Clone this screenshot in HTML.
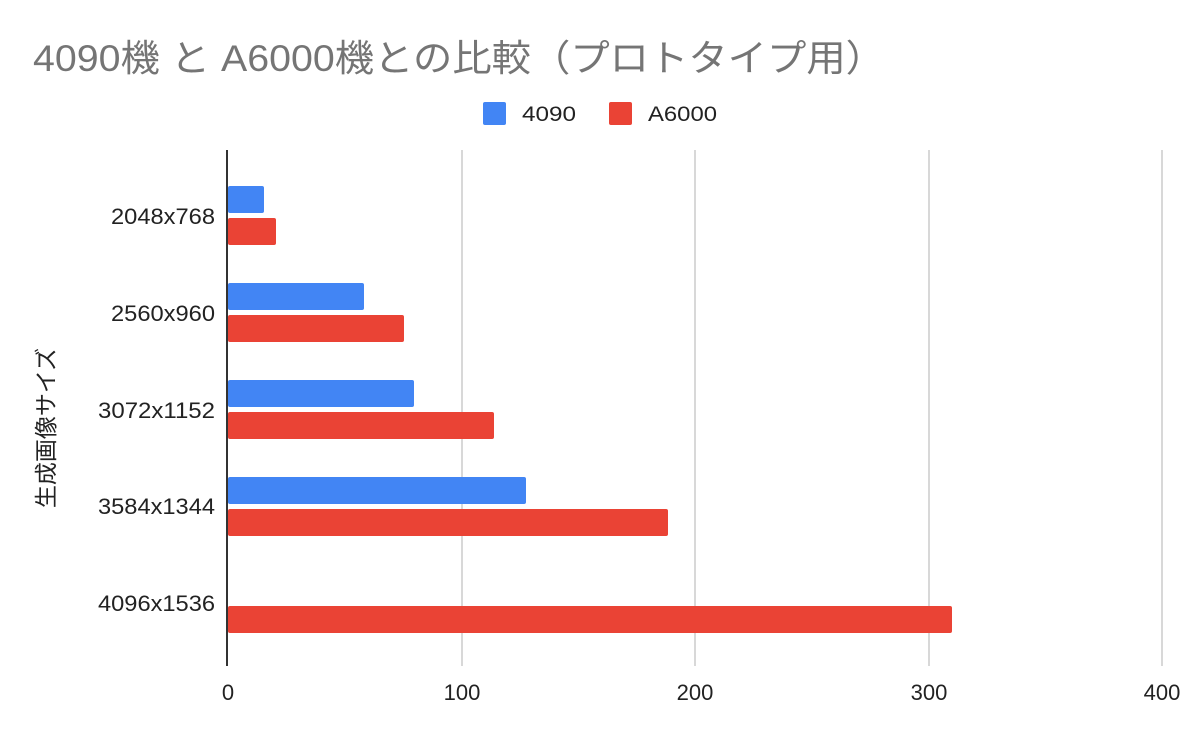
<!DOCTYPE html>
<html><head><meta charset="utf-8"><style>body{margin:0;background:#fff}</style></head><body>
<svg width="1200" height="742" xmlns="http://www.w3.org/2000/svg" font-family="'Liberation Sans','Noto Sans CJK JP',sans-serif">
<rect width="1200" height="742" fill="#fff"/>
<text x="33" y="71" font-size="37" fill="#757575" textLength="852" lengthAdjust="spacingAndGlyphs">4090機 と A6000機との比較（プロトタイプ用）</text>
<rect x="483" y="102" width="23" height="23" rx="2" fill="#4285f4"/>
<text x="522" y="121" font-size="21" fill="#222" textLength="54" lengthAdjust="spacingAndGlyphs">4090</text>
<rect x="609" y="102" width="23" height="23" rx="2" fill="#ea4335"/>
<text x="648" y="121" font-size="21" fill="#222" textLength="69" lengthAdjust="spacingAndGlyphs">A6000</text>
<g stroke="#ccc" stroke-width="1.5">
<line x1="462" y1="150" x2="462" y2="666"/><line x1="695" y1="150" x2="695" y2="666"/>
<line x1="929" y1="150" x2="929" y2="666"/><line x1="1162" y1="150" x2="1162" y2="666"/>
</g>
<g fill="#4285f4">
<rect x="228" y="186" width="36" height="27" rx="2"/>
<rect x="228" y="283" width="136" height="27" rx="2"/>
<rect x="228" y="380" width="186" height="27" rx="2"/>
<rect x="228" y="477" width="298" height="27" rx="2"/>
</g>
<g fill="#ea4335">
<rect x="228" y="218" width="48" height="27" rx="2"/>
<rect x="228" y="315" width="176" height="27" rx="2"/>
<rect x="228" y="412" width="266" height="27" rx="2"/>
<rect x="228" y="509" width="440" height="27" rx="2"/>
<rect x="228" y="606" width="724" height="27" rx="2"/>
</g>
<line x1="227" y1="150" x2="227" y2="666" stroke="#333" stroke-width="2"/>
<g font-size="22" fill="#222" text-anchor="end">
<text x="215" y="224" textLength="104" lengthAdjust="spacingAndGlyphs">2048x768</text>
<text x="215" y="321" textLength="104" lengthAdjust="spacingAndGlyphs">2560x960</text>
<text x="215" y="418" textLength="117" lengthAdjust="spacingAndGlyphs">3072x1152</text>
<text x="215" y="514" textLength="117" lengthAdjust="spacingAndGlyphs">3584x1344</text>
<text x="215" y="611" textLength="117" lengthAdjust="spacingAndGlyphs">4096x1536</text>
</g>
<g font-size="22" fill="#222" text-anchor="middle">
<text x="228" y="700">0</text><text x="462" y="700">100</text><text x="695" y="700">200</text>
<text x="929" y="700">300</text><text x="1162" y="700">400</text>
</g>
<text transform="translate(54,428) rotate(-90)" font-size="23" fill="#222" text-anchor="middle">生成画像サイズ</text>
</svg>
</body></html>
